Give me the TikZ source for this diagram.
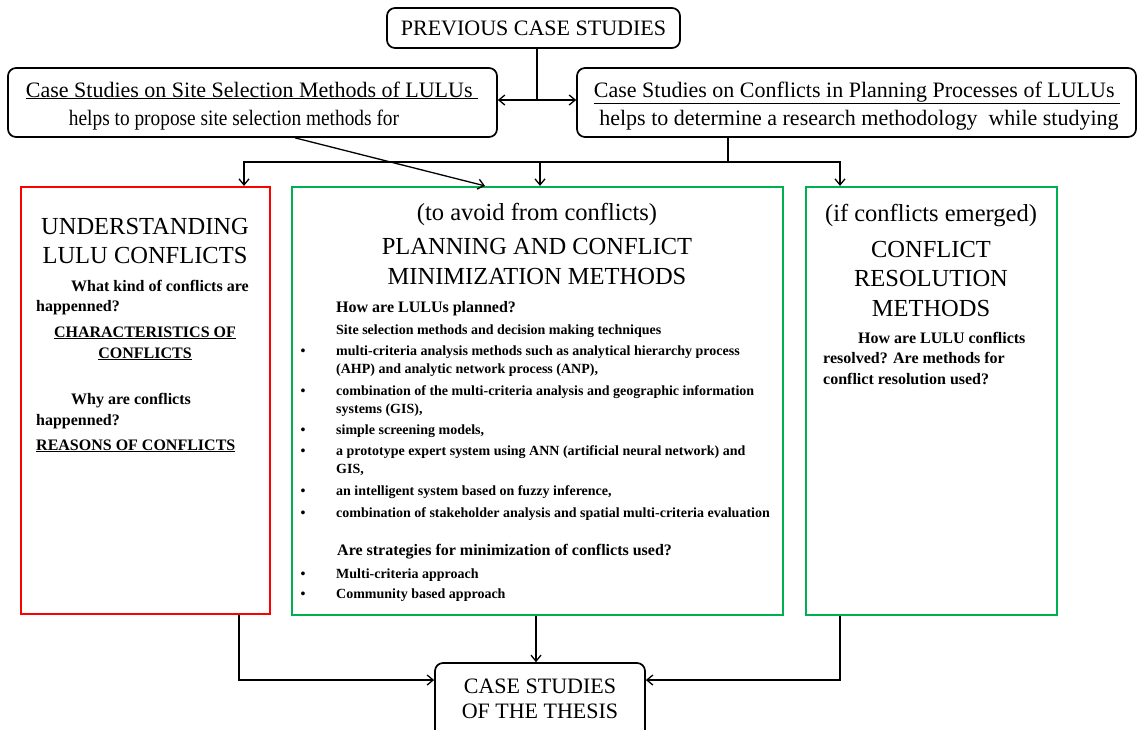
\documentclass[tikz,border=0pt]{standalone}
\usepackage{fontspec}
\setmainfont{Liberation Serif}
\usetikzlibrary{arrows.meta}
\definecolor{panelred}{RGB}{255,0,0}
\definecolor{panelgreen}{RGB}{0,176,80}
\newcommand\headfs{\fontsize{24.5}{29}\selectfont}
\newcommand\topfs{\fontsize{22}{26}\selectfont}
\newcommand\qfs{\bfseries\fontsize{16}{19}\selectfont}
\newcommand\itemfs{\bfseries\fontsize{14}{18}\selectfont}
\begin{document}
\begin{tikzpicture}[x=1pt,y=-1pt,
  rbox/.style={draw, line width=1.7pt, rounded corners=8pt, inner sep=0pt},
  panel/.style={draw, line width=2.2pt, inner sep=0pt},
  conn/.style={line width=1.3pt, -{Straight Barb[length=6pt,width=10pt]}},
  biconn/.style={line width=1.3pt, {Straight Barb[length=6pt,width=10pt]}-{Straight Barb[length=6pt,width=10pt]}},
  plain/.style={line width=1.3pt},
  lt/.style={inner sep=0pt, anchor=base west},
  ct/.style={inner sep=0pt, anchor=base},
  bul/.style={inner sep=0pt, anchor=base, font=\itemfs}]
\useasboundingbox[fill=white] (0,0) rectangle (1138,729);

% --- boxes
\node[rbox, minimum width=293pt, minimum height=40pt] (prev) at (533.5,28) {};
\node[rbox, minimum width=489pt, minimum height=69pt] (site) at (252.5,102.5) {};
\node[rbox, minimum width=559pt, minimum height=69pt] (confl) at (856.5,102.5) {};
\node[panel, draw=panelred, minimum width=249pt, minimum height=427pt] (und) at (145.5,400.5) {};
\node[panel, draw=panelgreen, minimum width=491pt, minimum height=428pt] (plan) at (537.5,401) {};
\node[panel, draw=panelgreen, minimum width=251pt, minimum height=428pt] (res) at (931.5,401) {};
% the lower edge of this box runs past the foot of the page
\node[rbox, minimum width=210pt, minimum height=77pt] (thesis) at (540,701.5) {};

% --- top texts
\node[ct, font=\topfs] (tprev) at (533.5,35) {PREVIOUS CASE STUDIES};
\node[ct, font=\topfs] (ts1) at (252,97) {\underline{Case Studies on Site Selection Methods of LULUs\ }};
\node[ct, font=\topfs] (ts2) at (234,125) {\scalebox{0.88}[1]{helps to propose site selection methods for}};
\node[ct, font=\topfs] (tc1) at (857,97) {\underline{Case Studies on Conflicts in Planning Processes of LULUs\ }};
\node[ct, font=\topfs] (tc2) at (859,125) {helps to determine a research methodology\ \ while studying};

% --- left panel
\node[ct, font=\headfs] (u1) at (145,234) {UNDERSTANDING};
\node[ct, font=\headfs] (u2) at (145,263) {LULU CONFLICTS};
\node[lt, font=\qfs] (u3) at (71,291) {What kind of conflicts are};
\node[lt, font=\qfs] (u4) at (36,311) {happenned?};
\node[ct, font=\qfs] (u5) at (145,337) {\underline{CHARACTERISTICS OF}};
\node[ct, font=\qfs] (u6) at (145,358) {\underline{CONFLICTS}};
\node[lt, font=\qfs] (u7) at (71,404) {Why are conflicts};
\node[lt, font=\qfs] (u8) at (36,425) {happenned?};
\node[lt, font=\qfs] (u9) at (36,450) {\underline{REASONS OF CONFLICTS}};

% --- middle panel
\node[ct, font=\headfs] (p1) at (537,220) {(to avoid from conflicts)};
\node[ct, font=\headfs] (p2) at (537,254) {PLANNING AND CONFLICT};
\node[ct, font=\headfs] (p3) at (537,284) {MINIMIZATION METHODS};
\node[lt, font=\qfs] (p4) at (336,312) {How are LULUs planned?};
\node[lt, font=\itemfs] (p5) at (336,334) {Site selection methods and decision making techniques};
\node[bul] (b1) at (303,355) {\textbullet};
\node[lt, font=\itemfs] (p6) at (336,355) {multi-criteria analysis methods such as analytical hierarchy process};
\node[lt, font=\itemfs] (p7) at (336,373) {(AHP) and analytic network process (ANP),};
\node[bul] (b2) at (303,395) {\textbullet};
\node[lt, font=\itemfs] (p8) at (336,395) {combination of the multi-criteria analysis and geographic information};
\node[lt, font=\itemfs] (p9) at (336,413) {systems (GIS),};
\node[bul] (b3) at (303,434) {\textbullet};
\node[lt, font=\itemfs] (p10) at (336,434) {simple screening models,};
\node[bul] (b4) at (303,455) {\textbullet};
\node[lt, font=\itemfs] (p11) at (336,455) {a prototype expert system using ANN (artificial neural network) and};
\node[lt, font=\itemfs] (p12) at (336,473) {GIS,};
\node[bul] (b5) at (303,495) {\textbullet};
\node[lt, font=\itemfs] (p13) at (336,495) {an intelligent system based on fuzzy inference,};
\node[bul] (b6) at (303,517) {\textbullet};
\node[lt, font=\itemfs] (p14) at (336,517) {combination of stakeholder analysis and spatial multi-criteria evaluation};
\node[lt, font=\qfs] (p15) at (337,555) {Are strategies for minimization of conflicts used?};
\node[bul] (b7) at (303,578) {\textbullet};
\node[lt, font=\itemfs] (p16) at (336,578) {Multi-criteria approach};
\node[bul] (b8) at (303,598) {\textbullet};
\node[lt, font=\itemfs] (p17) at (336,598) {Community based approach};

% --- right panel
\node[ct, font=\headfs] (r1) at (931,221) {(if conflicts emerged)};
\node[ct, font=\headfs] (r2) at (931,257) {CONFLICT};
\node[ct, font=\headfs] (r3) at (931,286) {RESOLUTION};
\node[ct, font=\headfs] (r4) at (931,316) {METHODS};
\node[lt, font=\qfs] (r5) at (858,343) {How are LULU conflicts};
\node[lt, font=\qfs] (r6) at (823,363) {resolved? Are methods for};
\node[lt, font=\qfs] (r7) at (823,384) {conflict resolution used?};

% --- bottom box text
\node[ct, font=\topfs] (th1) at (540,693) {CASE STUDIES};
\node[ct, font=\topfs] (th2) at (540,718) {OF THE THESIS};

% --- connectors
\coordinate (j) at (537,100);
\draw[plain] (prev.south -| j) -- (j);
\draw[biconn] (site.east |- j) -- (confl.west |- j);

\coordinate (b) at (728,162);
\coordinate (hl) at (244,162);
\coordinate (hm) at (540,162);
\coordinate (hr) at (840,162);
\draw[plain] (confl.south -| b) -- (b);
\draw[conn] (b) -- (hl) -- (und.north -| hl);
\draw[conn] (b) -- (hr) -- (res.north -| hr);
\draw[conn] (hm) -- (plan.north -| hm);

\coordinate (ds) at (295,0);
\coordinate (de) at (485,0);
\draw[conn] (site.south -| ds) -- (plan.north -| de);

\coordinate (ul) at (239,680);
\coordinate (ur) at (840,680);
\coordinate (um) at (536,0);
\draw[conn] (und.south -| ul) -- (ul) -- (thesis.west |- ul);
\draw[conn] (plan.south -| um) -- (thesis.north -| um);
\draw[conn] (res.south -| ur) -- (ur) -- (thesis.east |- ur);
\end{tikzpicture}
\end{document}
